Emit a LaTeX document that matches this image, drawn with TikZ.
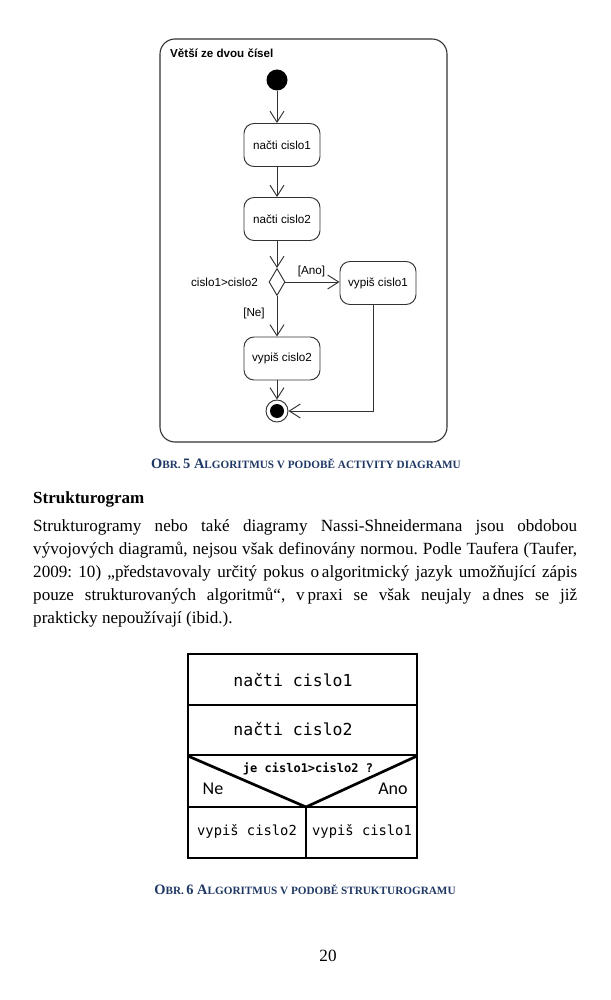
\documentclass[tikz,border=0pt]{standalone}
\usepackage{fontspec}
\setmainfont{Liberation Serif}
\newfontfamily\umlfont{Liberation Sans}
\newfontfamily\nsmono{DejaVu Sans Mono}
\newfontfamily\carfont{Carlito}
\usetikzlibrary{arrows.meta,shapes.geometric,calc}
\definecolor{capblue}{RGB}{31,56,100}
\definecolor{umlline}{RGB}{50,50,50}
\newcommand\capbig[1]{{\fontsize{14.4}{15}\selectfont #1}}
\newcommand\capsml[1]{{\fontsize{11.2}{12}\selectfont #1}}
\tikzset{
  act/.style={draw=umlline, line width=0.95pt, rounded corners=10pt, minimum width=76pt, minimum height=43pt, inner sep=0pt, font=\umlfont\fontsize{11.7}{13}\selectfont},
  umllbl/.style={inner sep=0pt, font=\umlfont\fontsize{11.7}{13}\selectfont},
  flow/.style={draw=umlline, line width=0.95pt, -{Straight Barb[length=11pt,width=14pt,line width=0.95pt]}},
  nsline/.style={line width=2.7pt, line join=miter},
  nstext/.style={inner sep=0pt, font=\nsmono\fontsize{16.5}{18}\selectfont},
  nscell/.style={inner sep=0pt, font=\nsmono\fontsize{13.8}{16}\selectfont},
  body/.style={inner sep=0pt, anchor=base west, font=\fontsize{17.1}{20}\selectfont\frenchspacing},
  caption/.style={inner sep=0pt, text=capblue, font=\bfseries},
}
\begin{document}
\begin{tikzpicture}[x=1pt,y=-1pt]
\useasboundingbox (0,0) rectangle (610,1000);
% ---------- activity diagram ----------
\draw[umlline, line width=1.1pt, rounded corners=15pt] (160,39) rectangle (447,442);
\node[anchor=west, inner sep=0pt, font=\umlfont\bfseries\fontsize{11.6}{13}\selectfont] (title) at (170,53) {Větší ze dvou čísel};
\node[circle, fill=black, inner sep=0pt, minimum size=21pt] (start) at (277,80) {};
\node[act] (b1) at (282,145) {načti cislo1};
\node[act] (b2) at (282,219) {načti cislo2};
\node[diamond, draw=umlline, line width=0.95pt, inner sep=0pt, minimum width=16pt, minimum height=27pt] (d) at (277,282) {};
\node[act] (b3) at (378,283) {vypiš cislo1};
\node[act] (b4) at (282,358.5) {vypiš cislo2};
\node[circle, draw=umlline, line width=0.95pt, fill=white, inner sep=0pt, minimum size=22pt] (end) at (277,411) {};
\node[circle, fill=black, inner sep=0pt, minimum size=14pt] (endin) at (end) {};
\coordinate (corner) at (373,411);
\node[umllbl, anchor=east] (cond) at (258,282) {cislo1>cislo2};
\node[umllbl] (ano) at (311.5,271.5) {[Ano]};
\node[umllbl] (ne) at (254,313.5) {[Ne]};
\draw[flow] (start) -- (start |- b1.north);
\draw[flow] (start |- b1.south) -- (start |- b2.north);
\draw[flow] (start |- b2.south) -- (d.north);
\draw[flow] (d.east) -- (d.east -| b3.west);
\draw[flow] (d.south) -- (start |- b4.north);
\draw[flow] (start |- b4.south) -- (end.north);
\draw[flow] (b3.south -| corner) -- (corner) -- (end.east);
\node[caption] (cap1) at (306,463.5) {\capbig{O}\capsml{BR.} \capbig{5 A}\capsml{LGORITMUS V PODOBĚ ACTIVITY DIAGRAMU}};
% ---------- text ----------
\node[inner sep=0pt, anchor=base west, font=\bfseries\fontsize{17}{20}\selectfont] (head) at (33,503) {Strukturogram};
\node[body] (l1) at (33,531) {\makebox[544pt][s]{Strukturogramy nebo také diagramy Nassi-Shneidermana jsou obdobou}};
\node[body] (l2) at (33,554) {\makebox[544pt][s]{vývojových diagramů, nejsou však definovány normou. Podle Taufera (Taufer,}};
\node[body] (l3) at (33,577) {\makebox[544pt][s]{2009: 10) „představovaly určitý pokus o\,algoritmický jazyk umožňující zápis}};
\node[body] (l4) at (33,600) {\makebox[544pt][s]{pouze strukturovaných algoritmů“, v\,praxi se však neujaly a\,dnes se již}};
\node[body] (l5) at (33,623) {prakticky nepoužívají (ibid.).};
% ---------- structurogram ----------
\draw[nsline] (188,654) rectangle (417,858);
\draw[nsline] (188,705) -- (417,705);
\draw[nsline] (188,755) -- (417,755);
\draw[nsline] (188,807) -- (417,807);
\draw[nsline] (188,756) -- (306,807) -- (417,756);
\draw[nsline] (306,807) -- (306,858);
\node[nstext] (s1) at (293,680) {načti cislo1};
\node[nstext] (s2) at (293,729.5) {načti cislo2};
\node[inner sep=0pt, font=\nsmono\bfseries\fontsize{12}{14}\selectfont] (q) at (308,768.5) {je cislo1>cislo2 ?};
\node[inner sep=0pt, font=\carfont\fontsize{18}{20}\selectfont] (sne) at (213,789) {Ne};
\node[inner sep=0pt, font=\carfont\fontsize{18}{20}\selectfont] (sano) at (393,789) {Ano};
\node[nscell] (s3) at (247,831.5) {vypiš cislo2};
\node[nscell] (s4) at (362,831.5) {vypiš cislo1};
\node[caption] (cap2) at (305,889.5) {\capbig{O}\capsml{BR.} \capbig{6 A}\capsml{LGORITMUS V PODOBĚ STRUKTUROGRAMU}};
\node[inner sep=0pt, font=\fontsize{17.1}{20}\selectfont] (pg) at (328,955.5) {20};
\end{tikzpicture}
\end{document}
